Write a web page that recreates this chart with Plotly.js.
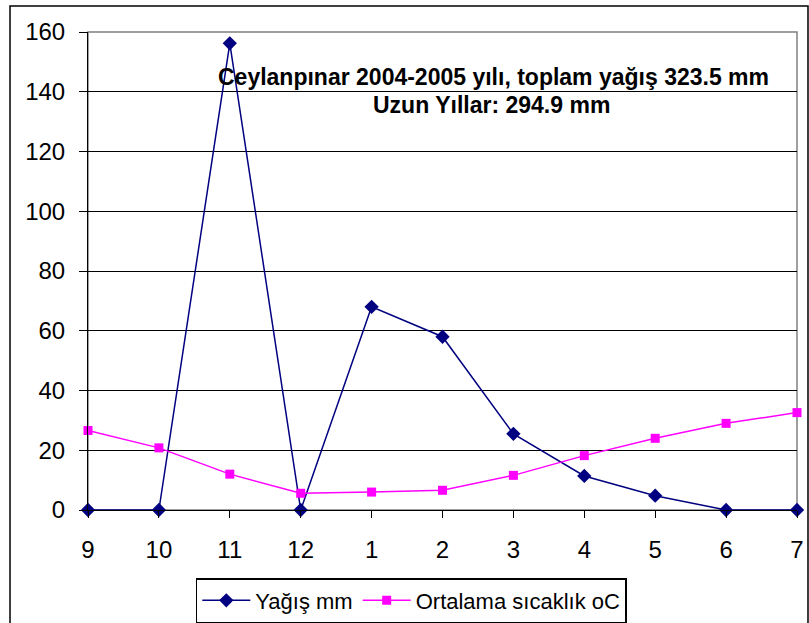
<!DOCTYPE html>
<html>
<head>
<meta charset="utf-8">
<script src="https://cdn.plot.ly/plotly-3.0.1.min.js"></script>
<style>
html,body{margin:0;padding:0;background:#fff;}
#chart{width:809px;height:623px;}
</style>
</head>
<body>
<div id="chart"></div>
<script>
const months = ["9","10","11","12","1","2","3","4","5","6","7"];
const yagis = [0, 0, 156.2, 0, 68, 58, 25.5, 11.4, 4.8, 0, 0];
const sicaklik = [26.6, 20.8, 12.0, 5.6, 6.0, 6.6, 11.6, 18.2, 24.0, 29.0, 32.6];
const yTicks = [0, 20, 40, 60, 80, 100, 120, 140, 160];

const FONT = "Arial, 'Liberation Sans', sans-serif";

const traces = [
  {
    x: months, y: yagis, type: "scatter", mode: "lines+markers",
    name: "Yağış mm",
    line: {color: "#000080", width: 1.5},
    marker: {symbol: "diamond", size: 11, color: "#000080"},
    cliponaxis: false
  },
  {
    x: months, y: sicaklik, type: "scatter", mode: "lines+markers",
    name: "Ortalama sıcaklık oC",
    line: {color: "#FF00FF", width: 1.5},
    marker: {symbol: "square", size: 9, color: "#FF00FF"},
    cliponaxis: false
  }
];

const layout = {
  width: 809, height: 623,
  margin: {l: 88, r: 12, t: 32, b: 113},
  paper_bgcolor: "#fff", plot_bgcolor: "#fff",
  font: {family: FONT, color: "#000"},
  showlegend: true,
  legend: {
    orientation: "h", xref: "paper", x: 0.456, xanchor: "center",
    yref: "container", y: 0.0722, yanchor: "top",
    bordercolor: "#000", borderwidth: 1.5, font: {size: 22, family: FONT},
    itemwidth: 48, tracegroupgap: 0
  },
  xaxis: {
    type: "category", range: [0, 10], showgrid: false,
    showline: true, linecolor: "#000", linewidth: 1,
    ticks: "outside", ticklen: 7, tickcolor: "#000",
    ticklabelstandoff: 11,
    tickfont: {size: 24, family: FONT}, zeroline: false
  },
  yaxis: {
    range: [0, 160], tickvals: yTicks, ticktext: yTicks.map(String),
    showgrid: true, gridcolor: "#000", gridwidth: 1,
    showline: true, linecolor: "#000", linewidth: 1,
    ticks: "outside", ticklen: 8, tickcolor: "#000",
    ticklabelstandoff: 9,
    tickfont: {size: 24, family: FONT}, zeroline: false
  },
  shapes: [
    {type: "rect", xref: "paper", yref: "paper", x0: 0, x1: 1, y0: 0, y1: 1,
     line: {color: "#808080", width: 1.5}, layer: "below"},
    {type: "rect", xref: "paper", yref: "paper", x0: -0.110, x1: 1.0155, y0: -0.3, y1: 1.0545,
     line: {color: "#000", width: 1.5}, layer: "above"}
  ],
  annotations: [
    {text: "<b>Ceylanpınar 2004-2005 yılı, toplam yağış 323.5 mm</b>", xref: "paper", yref: "paper",
     x: 0.572, y: 0.905, xanchor: "center", yanchor: "middle", showarrow: false,
     font: {size: 23, family: FONT, color: "#000"}},
    {text: "<b>Uzun Yıllar: 294.9 mm</b>", xref: "paper", yref: "paper",
     x: 0.569, y: 0.847, xanchor: "center", yanchor: "middle", showarrow: false,
     font: {size: 23, family: FONT, color: "#000"}}
  ]
};

Plotly.newPlot("chart", traces, layout, {displayModeBar: false, staticPlot: true});
</script>
</body>
</html>
